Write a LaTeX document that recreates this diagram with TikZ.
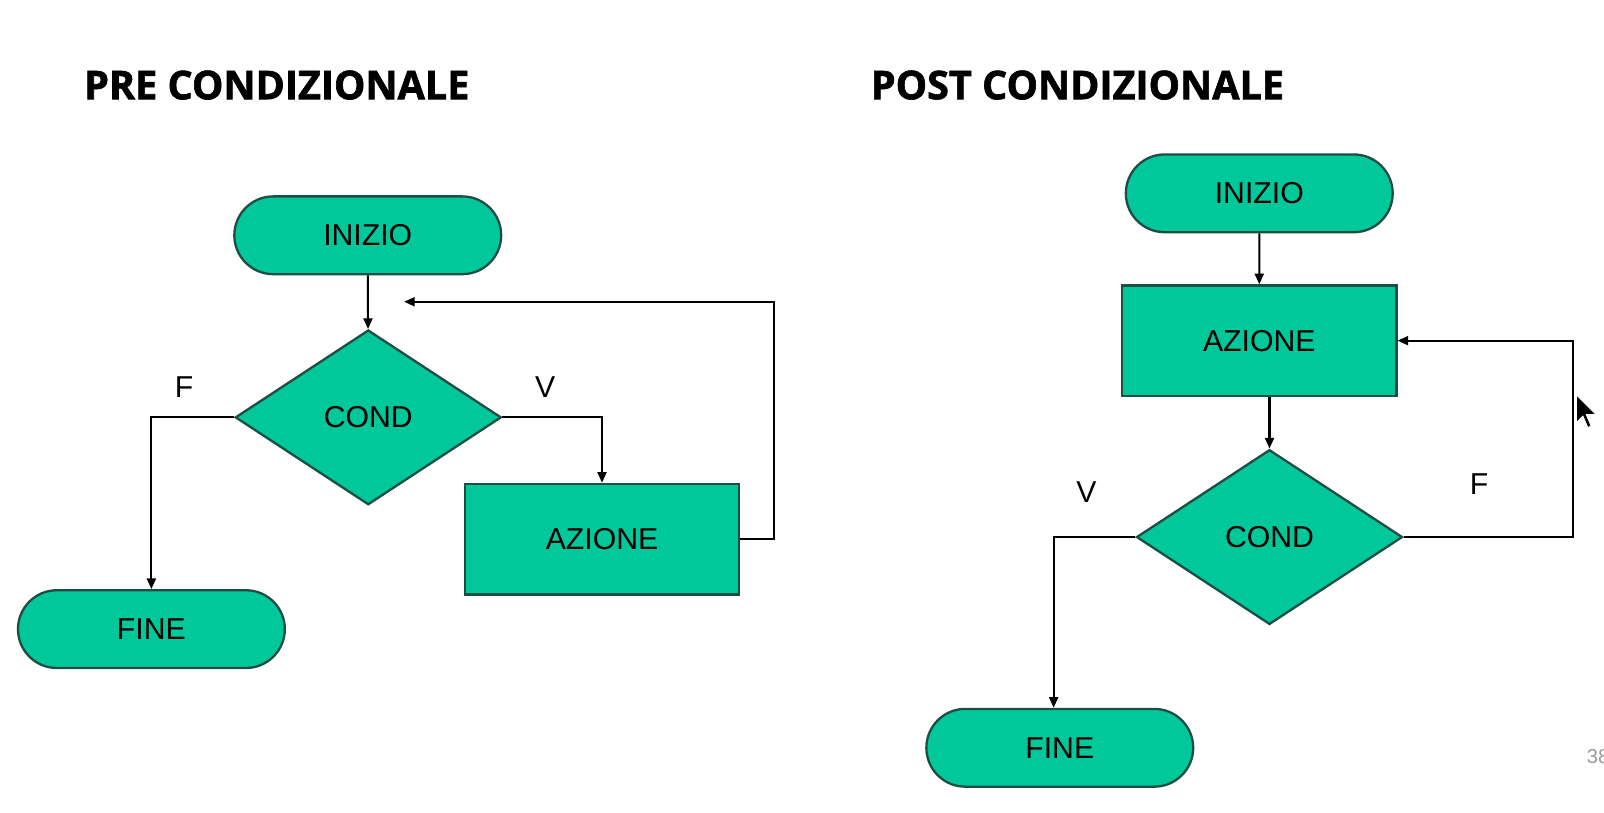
\documentclass[tikz,border=0pt]{standalone}
\usepackage{fontspec}
\setmainfont{Liberation Sans}
\newfontfamily\headfont[BoldFeatures={FakeBold=1.6}]{Open Sans}
\usepackage{xcolor}
\usetikzlibrary{shapes.geometric,shapes.misc,arrows.meta}

\definecolor{flowgreen}{HTML}{00C89B}
\definecolor{flowedge}{HTML}{1E4D44}

\tikzset{
  term/.style={rounded rectangle, draw=flowedge, fill=flowgreen, line width=1.6pt,
    minimum width=6.52cm, minimum height=1.9cm, inner sep=0pt,
    font=\fontsize{21}{25}\selectfont},
  actbox/.style={rectangle, draw=flowedge, fill=flowgreen, line width=1.6pt,
    minimum width=6.7cm, minimum height=2.7cm, inner sep=0pt,
    font=\fontsize{21}{25}\selectfont},
  condbox/.style={diamond, draw=flowedge, fill=flowgreen, line width=1.6pt,
    minimum width=6.5cm, minimum height=4.27cm, inner sep=0pt,
    font=\fontsize{21}{25}\selectfont},
  lbl/.style={inner sep=0pt, font=\fontsize{21}{25}\selectfont},
  heading/.style={anchor=base west, inner sep=0pt,
    font=\headfont\bfseries\fontsize{27.5}{32}\selectfont},
  flow/.style={draw=black, line width=1.4pt, -{Triangle[length=2.6mm,width=2.2mm]}},
}

\begin{document}
\begin{tikzpicture}[x=0.025cm,y=-0.025cm]
            \useasboundingbox (0,0) rectangle (1568,794);
            % titoli
            \node[heading] (pre) at (82,97) {PRE CONDIZIONALE};
            \node[heading] (post) at (851,97) {POST CONDIZIONALE};

            % pre condizionale
            \node[term] (ini1) at (359.5,230) {INIZIO};
            \node[condbox] (cond1) at (360,408) {COND};
            \node[term] (fine1) at (148,615) {FINE};
            \node[actbox] (az1) at (588.5,527) {AZIONE};
            \node[lbl] (f1) at (180,378) {F};
            \node[lbl] (v1) at (533,378) {V};
            \coordinate (back1) at (395,295);
            \path[flow] (ini1) -- (cond1);
            \path[flow] (cond1.west) -| (fine1.north);
            \path[flow] (cond1.east) -| (az1.north);
            \path[flow] (az1.east) -- ++(33,0) |- (back1);

            % post condizionale
            \node[term] (ini2) at (1231,189) {INIZIO};
            \node[actbox] (az2) at (1231,333) {AZIONE};
            \node[condbox] (cond2) at (1241,525) {COND};
            \node[term] (fine2) at (1036,731) {FINE};
            \node[lbl] (v2) at (1062,481) {V};
            \node[lbl] (f2) at (1446,473) {F};
            \path[flow] (ini2) -- (az2);
            \path[flow] (cond2.north |- az2.south) -- (cond2.north);
            \path[flow] (cond2.west) -| ([xshift=-1.5mm]fine2.north);
            \path[flow] (cond2.east) -- ++(166,0) |- (az2.east);

            % puntatore e numero pagina
            \filldraw[fill=black,draw=white,line width=0.6pt]
            (1541,386)--++(0,27)--++(6.4,-6.2)--++(4.8,11.2)--++(3.2,-1.6)
            --++(-4.8,-11.2)--++(9.6,0)--cycle;
            \node[anchor=base west,inner sep=0pt,text=gray!80,
                 font=\fontsize{14}{16}\selectfont] (pag) at (1551,746) {38};
          \end{tikzpicture}
\end{document}
